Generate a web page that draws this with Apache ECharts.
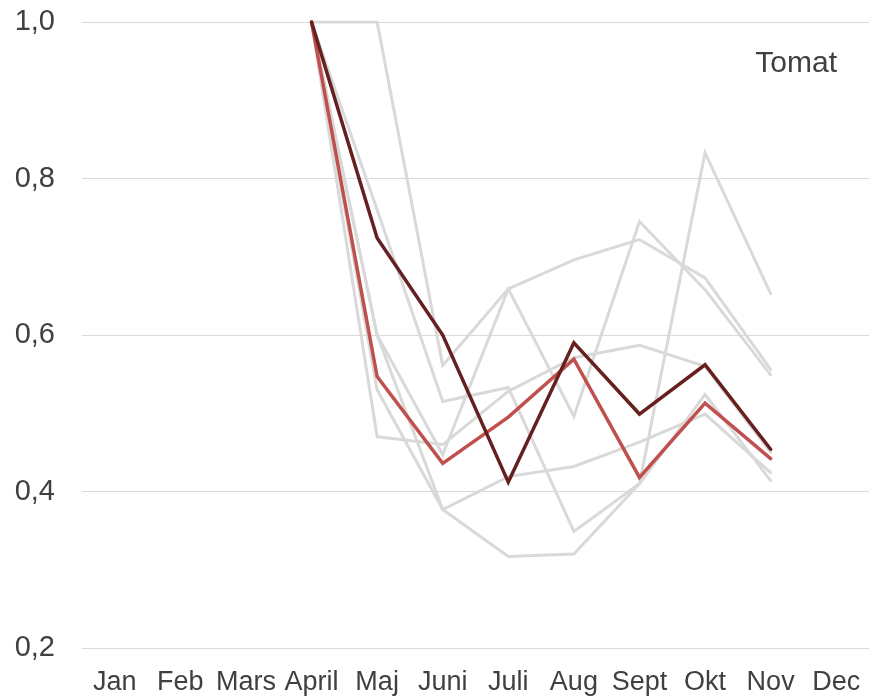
<!DOCTYPE html>
<html lang="sv">
<head>
    <meta charset="UTF-8">
    <title>Tomat</title>
    <style>
        html, body { margin: 0; padding: 0; background: #fff; }
        #main { width: 869px; height: 700px; }
    </style>
</head>
<body>
    <div id="main"></div>
    <script src="https://cdn.jsdelivr.net/npm/echarts@6/dist/echarts.min.js"></script>
    <script>
        // månader
        var months = ['Jan', 'Feb', 'Mars', 'April', 'Maj', 'Juni', 'Juli', 'Aug', 'Sept', 'Okt', 'Nov', 'Dec'];
        var yTicks = [0.2, 0.4, 0.6, 0.8, 1.0];

        // grå bakgrundslinjer (övriga år)
        var grey1 = [null, null, null, 1.0, 1.0, 0.561, 0.659, 0.496, 0.745, 0.658, 0.549, null];
        var grey2 = [null, null, null, 1.0, 0.76, 0.515, 0.533, 0.349, 0.41, 0.833, 0.653, null];
        var grey3 = [null, null, null, 1.0, 0.47, 0.46, 0.528, 0.571, 0.587, 0.56, 0.45, null];
        var grey4 = [null, null, null, 1.0, 0.60, 0.447, 0.659, 0.696, 0.722, 0.673, 0.556, null];
        var grey5 = [null, null, null, 1.0, 0.53, 0.377, 0.419, 0.432, 0.463, 0.499, 0.424, null];
        var grey6 = [null, null, null, 1.0, 0.60, 0.377, 0.317, 0.32, 0.41, 0.524, 0.414, null];

        // framhävda linjer
        var redLine = [null, null, null, 1.0, 0.547, 0.436, 0.495, 0.569, 0.418, 0.513, 0.442, null];
        var darkLine = [null, null, null, 1.0, 0.724, 0.600, 0.412, 0.590, 0.499, 0.562, 0.454, null];

        var greys = [grey1, grey2, grey3, grey4, grey5, grey6];

        function lineSeries(data, color, width, z) {
            return {
                type: 'line',
                data: data,
                symbol: 'none',
                z: z,
                silent: true,
                lineStyle: { color: color, width: width, cap: 'round', join: 'miter' }
            };
        }

        var series = greys.map(function (d) { return lineSeries(d, '#D9D9D9', 3, 2); });
        series.push(lineSeries(redLine, '#C0504D', 3.5, 3));
        series.push(lineSeries(darkLine, '#66201F', 3.5, 4));

        var myChart = echarts.init(document.getElementById('main'));
        myChart.setOption({
            backgroundColor: '#FFFFFF',
            animation: false,
            title: {
                text: 'Tomat',
                right: 27,
                top: 44,
                textStyle: { fontFamily: 'Liberation Sans', fontSize: 30, fontWeight: 'normal', color: '#404040' }
            },
            grid: { left: 82, right: 0, top: 22, bottom: 52, containLabel: false },
            xAxis: {
                type: 'category',
                data: months,
                boundaryGap: true,
                axisLine: { show: false },
                axisTick: { show: false },
                axisLabel: {
                    margin: 21,
                    interval: 0,
                    fontFamily: 'Liberation Sans Narrow, Liberation Sans',
                    fontSize: 27,
                    color: '#404040'
                }
            },
            yAxis: {
                type: 'value',
                min: yTicks[0],
                max: yTicks[yTicks.length - 1],
                interval: 0.2,
                axisLine: { show: false },
                axisTick: { show: false },
                splitLine: { lineStyle: { color: '#D9D9D9', width: 1 } },
                axisLabel: {
                    margin: 27,
                    fontFamily: 'Liberation Sans',
                    fontSize: 29,
                    color: '#404040',
                    formatter: function (v) { return v.toFixed(1).replace('.', ','); }
                }
            },
            series: series
        });
    </script>
</body>
</html>
